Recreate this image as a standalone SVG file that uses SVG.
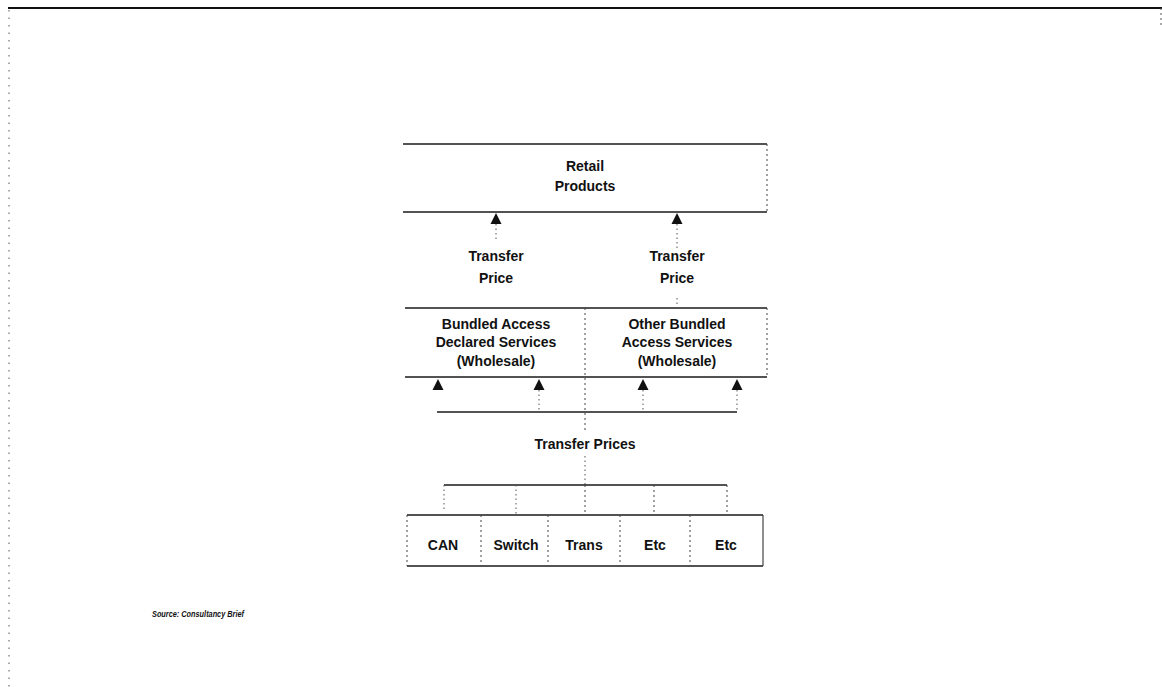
<svg xmlns="http://www.w3.org/2000/svg" width="1162" height="687" viewBox="0 0 1162 687">
  <style>
    .lbl { font-family: "Liberation Sans", Arial, sans-serif; font-weight: bold; font-size: 14px; fill: #111; text-anchor: middle; }
    .src { font-family: "Liberation Sans", Arial, sans-serif; font-weight: bold; font-style: italic; font-size: 9px; fill: #111; }
    .edge { stroke: #1a1a1a; stroke-width: 1.6; fill: none; }
    .side { stroke: #444; stroke-width: 1; stroke-dasharray: 2 3; fill: none; }
    .stem { stroke: #555; stroke-width: 1; stroke-dasharray: 1.5 3; fill: none; }
    .bar { stroke: #1a1a1a; stroke-width: 1.5; fill: none; }
    .head { fill: #111; }
  </style>
  <rect width="1162" height="687" fill="#fff"/>

  <!-- page frame -->
  <g id="frame">
    <line x1="8" y1="8" x2="1162" y2="8" stroke="#111" stroke-width="1.8"/>
    <line x1="9" y1="10" x2="9" y2="687" stroke="#555" stroke-width="1" stroke-dasharray="1.5 6"/>
    <line x1="1161" y1="8" x2="1161" y2="26" stroke="#555" stroke-width="1" stroke-dasharray="2 3"/>
  </g>

  <g id="retail">
    <line class="edge" x1="403" y1="144" x2="767" y2="144"/>
    <line class="edge" x1="403" y1="212" x2="767" y2="212"/>
    <line class="side" x1="767" y1="144" x2="767" y2="212"/>
    <text class="lbl" x="585" y="171">Retail</text>
    <text class="lbl" x="585" y="191">Products</text>
  </g>

  <g id="wholesale-declared">
    <line class="edge" x1="405" y1="308" x2="585" y2="308"/>
    <line class="edge" x1="405" y1="377" x2="585" y2="377"/>
    <text class="lbl" x="496" y="329">Bundled Access</text>
    <text class="lbl" x="496" y="347">Declared Services</text>
    <text class="lbl" x="496" y="366">(Wholesale)</text>
  </g>

  <g id="wholesale-other">
    <line class="edge" x1="585" y1="308" x2="767" y2="308"/>
    <line class="edge" x1="585" y1="377" x2="767" y2="377"/>
    <line class="side" x1="767" y1="308" x2="767" y2="377"/>
    <text class="lbl" x="677" y="329">Other Bundled</text>
    <text class="lbl" x="677" y="347">Access Services</text>
    <text class="lbl" x="677" y="366">(Wholesale)</text>
  </g>

  <g id="components">
    <line class="edge" x1="407" y1="515" x2="763" y2="515"/>
    <line class="edge" x1="407" y1="566" x2="763" y2="566"/>
    <line class="side" x1="407" y1="515" x2="407" y2="566"/>
    <line class="side" x1="481" y1="515" x2="481" y2="566"/>
    <line class="side" x1="548" y1="515" x2="548" y2="566"/>
    <line class="side" x1="620" y1="515" x2="620" y2="566"/>
    <line class="side" x1="690" y1="515" x2="690" y2="566"/>
    <line x1="763" y1="515" x2="763" y2="566" stroke="#333" stroke-width="1.1"/>
    <text class="lbl" x="443" y="550">CAN</text>
    <text class="lbl" x="516" y="550">Switch</text>
    <text class="lbl" x="584" y="550">Trans</text>
    <text class="lbl" x="655" y="550">Etc</text>
    <text class="lbl" x="726" y="550">Etc</text>
  </g>

  <g id="labels">
    <text class="lbl" x="496" y="261">Transfer</text>
    <text class="lbl" x="496" y="283">Price</text>
    <text class="lbl" x="677" y="261">Transfer</text>
    <text class="lbl" x="677" y="283">Price</text>
    <text class="lbl" x="585" y="449">Transfer Prices</text>
  </g>

  <g id="connectors">
    <!-- wholesale to retail -->
    <line class="stem" x1="496" y1="224" x2="496" y2="240"/>
    <line class="stem" x1="677" y1="224" x2="677" y2="248"/>
    <line class="stem" x1="677" y1="298" x2="677" y2="308"/>
    <polygon class="head" points="496,213 490.5,224 501.5,224"/>
    <polygon class="head" points="677,213 671.5,224 682.5,224"/>

    <!-- components to wholesale -->
    <line class="side" x1="585" y1="308" x2="585" y2="432"/>
    <line class="bar" x1="437" y1="412" x2="737" y2="412"/>
    <line class="stem" x1="539" y1="390" x2="539" y2="412"/>
    <line class="stem" x1="643" y1="390" x2="643" y2="412"/>
    <line class="stem" x1="737" y1="390" x2="737" y2="412"/>
    <polygon class="head" points="438,379 432.5,390 443.5,390"/>
    <polygon class="head" points="539,379 533.5,390 544.5,390"/>
    <polygon class="head" points="643,379 637.5,390 648.5,390"/>
    <polygon class="head" points="737,379 731.5,390 742.5,390"/>

    <!-- transfer prices fan-out -->
    <line class="stem" x1="585" y1="456" x2="585" y2="485"/>
    <line class="bar" x1="444" y1="485" x2="727" y2="485"/>
    <line class="stem" x1="444" y1="485" x2="444" y2="510"/>
    <line class="stem" x1="516" y1="485" x2="516" y2="515"/>
    <line class="side" x1="585" y1="485" x2="585" y2="515"/>
    <line class="side" x1="654" y1="485" x2="654" y2="515"/>
    <line class="side" x1="727" y1="485" x2="727" y2="515"/>
  </g>

  <text class="src" x="152" y="617" textLength="92" lengthAdjust="spacingAndGlyphs">Source: Consultancy Brief</text>
</svg>
